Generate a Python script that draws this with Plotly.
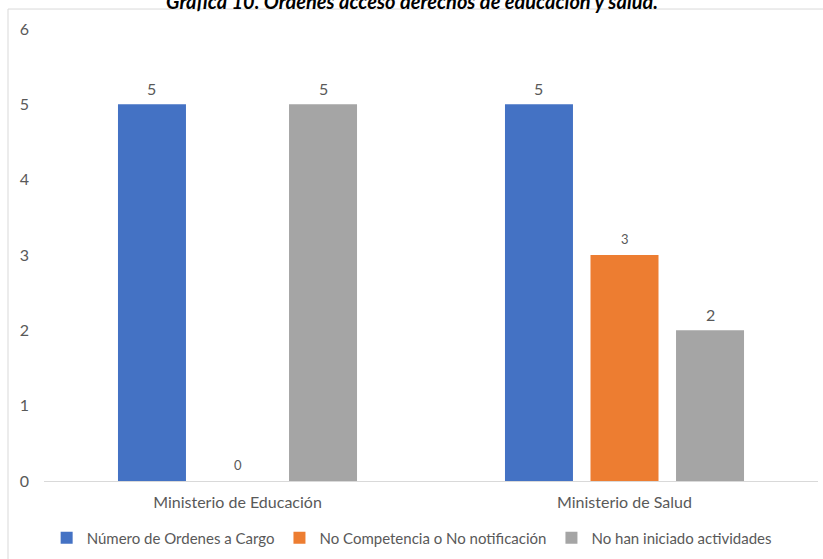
import plotly.graph_objects as go

# Orders per ministry, split by status
categories = ["Ministerio de Educación", "Ministerio de Salud"]
series_names = [
    "Número de Ordenes a Cargo",
    "No Competencia o No notificación",
    "No han iniciado actividades",
]
ordenes_a_cargo = [5, 5]
no_competencia = [0, 3]
no_iniciado = [5, 2]
y_ticks = [0, 1, 2, 3, 4, 5, 6]

series_values = [ordenes_a_cargo, no_competencia, no_iniciado]
colors = ["#4472C4", "#ED7D31", "#A5A5A5"]
label_sizes = [16, 13, 16]
text_color = "#595959"
font_family = "Lato, Carlito, Calibri, sans-serif"

fig = go.Figure()
for name, vals, col in zip(series_names, series_values, colors):
    fig.add_trace(go.Bar(
        name=name, x=categories, y=vals,
        marker=dict(color=col, line=dict(width=0)),
    ))

# value labels above each bar
offset = 0.221
for j, (vals, size) in enumerate(zip(series_values, label_sizes)):
    for i, v in enumerate(vals):
        fig.add_annotation(
            x=i + (j - 1) * offset, y=v, xref="x", yref="y",
            text=str(v), showarrow=False, yanchor="middle", yshift=16,
            font=dict(size=size, color=text_color, family=font_family),
        )

# title (partly above the visible page)
fig.add_annotation(
    x=0.475, y=1.031, xref="paper", yref="paper",
    text="<b><i>Gráfica 10. Órdenes acceso derechos de educación y salud.</i></b>",
    showarrow=False, xanchor="center", yanchor="bottom",
    font=dict(size=20, color="#000000", family=font_family),
)

# chart area frame
fig.add_shape(
    type="rect", xref="paper", yref="paper",
    x0=-0.0465, x1=1.03, y0=-0.2, y1=1.0442,
    line=dict(color="#D9D9D9", width=1), fillcolor="rgba(0,0,0,0)",
    layer="below",
)

fig.update_layout(
    width=823, height=559,
    margin=dict(l=44, r=5, t=29, b=78),
    paper_bgcolor="white", plot_bgcolor="white",
    barmode="group", bargap=0.337, bargroupgap=0.205,
    font=dict(family=font_family, color=text_color, size=15),
    showlegend=True,
    legend=dict(
        orientation="h", x=0.475, xanchor="center", y=-0.126, yanchor="middle",
        font=dict(size=15, color=text_color), traceorder="normal",
        itemclick=False,
    ),
    xaxis=dict(
        showline=True, linecolor="#D9D9D9", linewidth=1,
        showgrid=False, ticks="", tickfont=dict(size=16, color=text_color),
        ticklabelstandoff=7,
    ),
    yaxis=dict(
        range=[0, 6], tickvals=y_ticks, showgrid=False, zeroline=False,
        showline=False, ticks="", tickfont=dict(size=16, color=text_color),
        ticklabelstandoff=14,
    ),
)

fig.write_html("out.html")
